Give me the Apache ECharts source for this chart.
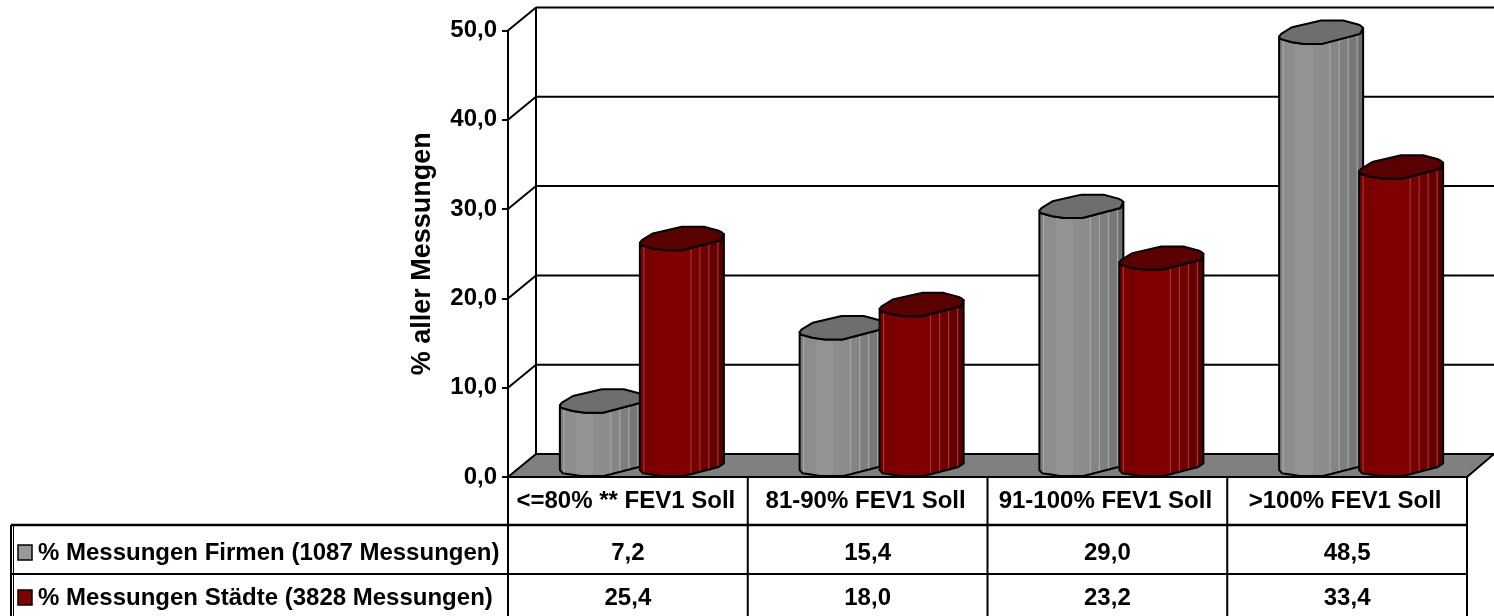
<!DOCTYPE html>
<html><head><meta charset="utf-8">
<style>html,body{margin:0;padding:0;background:#fff}#c{width:1494px;height:616px}</style>
<script src="https://cdn.jsdelivr.net/npm/echarts@6/dist/echarts.min.js"></script>
</head><body><div id="c"></div>
<script>
const categories = ['<=80% ** FEV1 Soll','81-90% FEV1 Soll','91-100% FEV1 Soll','>100% FEV1 Soll'];
const firmenName = '% Messungen Firmen (1087 Messungen)';
const staedteName = '% Messungen Städte (3828 Messungen)';
const firmen = [7.2,15.4,29.0,48.5];
const staedte = [25.4,18.0,23.2,33.4];
const yTicks = [0,10,20,30,40,50];
const FONT = '"Liberation Sans", Arial, sans-serif';
const DX = 28, DY = 23;
const fmt = v => v.toFixed(1).replace('.', ',');

function ramp(stops){
  const out=[];
  for(let i=0;i<stops.length;i++){
    const a=stops[i][0], b=i+1<stops.length?stops[i+1][0]:1;
    out.push({offset:a,color:stops[i][1]},{offset:b,color:stops[i][1]});
  }
  return new echarts.graphic.LinearGradient(0,0,1,0,out);
}
const greyBody=[[0,'#7d7d7d'],[.05,'#8d8d8d'],[.2,'#939393'],[.4,'#8c8c8c'],[.6,'#858585'],[.72,'#7f7f7f'],[.83,'#777'],[.94,'#6c6c6c']];
const redBody=[[0,'#7a0000'],[.2,'#800000'],[.6,'#780000'],[.72,'#700000'],[.83,'#660000'],[.94,'#520000']];

// outline of the faceted cylinder cap and foot, relative to their centre
const capFront=[[-42,4.3],[-41,6.7],[-29,10],[-17,11.7],[1,11.7],[39,1.7],[42,-4.3]];
const capBack=[[39.5,-6.5],[37,-7.7],[22,-11.7],[0,-11.7],[-29,-5],[-40,1.7]];
const footFront=[[-42,5.2],[-39,8.5],[-21,11.2],[2,11.2],[36,2.5],[42,-1.5]];
function edgeY(edge,x){
  for(let i=0;i+1<edge.length;i++){
    const a=edge[i],b=edge[i+1];
    if(x>=a[0]&&x<=b[0]) return a[1]+(b[1]-a[1])*(x-a[0])/(b[0]-a[0]);
  }
  return 0;
}
function cylinder(offset, bodyStops, topColor, lineColor){
  return function(params, api){
    const H=11.7;
    const idx=api.value(0), val=api.value(1);
    const base=api.coord([idx,0]), top=api.coord([idx,val]);
    const cx=base[0]+offset*api.size([1,0])[0];
    const yb=base[1]-H-0.5, yt=top[1]-H;
    const at=(cy,p)=>[cx+p[0],cy+p[1]];
    const body=capFront.map(p=>at(yt,p)).concat(footFront.slice().reverse().map(p=>at(yb,p)));
    const ring=capFront.concat(capBack).map(p=>at(yt,p));
    const children=[{type:'polygon',shape:{points:body},style:{fill:ramp(bodyStops),stroke:'#000',lineWidth:2,lineJoin:'round'}}];
    [-38,9,18,27,36].forEach(o=>{
      children.push({type:'line',shape:{x1:cx+o,y1:yt+edgeY(capFront,o)+1,x2:cx+o,y2:yb+edgeY(footFront,o)-1},style:{stroke:lineColor,lineWidth:1}});
    });
    children.push({type:'polygon',shape:{points:ring},style:{fill:topColor,stroke:'#000',lineWidth:2,lineJoin:'round'}});
    return {type:'group',children};
  };
}

const chart=echarts.init(document.getElementById('c'),null,{renderer:'canvas'});

function tableGraphics(){
  const L=508,R=1467,T=477,R1=525,R2=574,B=616,LL=11;
  const line=(x1,y1,x2,y2,w)=>({type:'line',shape:{x1,y1,x2,y2},style:{stroke:'#000',lineWidth:w||2},z:20});
  const txt=(x,y,text,align)=>({type:'text',x,y,z:21,style:{text,fill:'#000',font:'bold 24px '+FONT,align:align||'center',verticalAlign:'middle'}});
  const g=[];
  g.push(line(L,T,L,B),line(R,T,R,B));
  const w=(R-L)/categories.length;
  for(let i=1;i<categories.length;i++) g.push(line(L+i*w,T,L+i*w,B));
  g.push(line(LL,R1,R,R1,2.5),line(LL,R2,R,R2,2),line(LL,R1,LL,B,2),line(LL+2.5,R1,LL+2.5,B,1));
  const rows=[[firmen,firmenName,'#999999',553],[staedte,staedteName,'#800000',598]];
  rows.forEach(([vals,name,col,y])=>{
    vals.forEach((v,i)=>g.push(txt(L+(i+.5)*w,y,fmt(v))));
    g.push({type:'rect',shape:{x:18,y:y-8,width:14,height:15},style:{fill:col,stroke:'#000',lineWidth:1.5},z:21});
    g.push(txt(38,y,name,'left'));
  });
  return g;
}

const wallData=yTicks.map(v=>[0,v]);
chart.setOption({
  animation:false,
  backgroundColor:'#fff',
  grid:{left:508,right:27,top:30.5,bottom:139,containLabel:false},
  xAxis:{type:'category',data:categories,boundaryGap:true,
    axisLine:{show:true,lineStyle:{color:'#000',width:2}},axisTick:{show:false},
    axisLabel:{interval:0,margin:12,color:'#000',fontFamily:FONT,fontWeight:'bold',fontSize:24,padding:[0,4,0,0]}},
  yAxis:{type:'value',min:0,max:50,interval:10,name:'% aller Messungen',nameLocation:'middle',nameGap:72,
    nameTextStyle:{color:'#000',fontFamily:FONT,fontWeight:'bold',fontSize:27},
    axisLine:{show:true,lineStyle:{color:'#000',width:2}},axisTick:{show:true,length:6,lineStyle:{color:'#000',width:2}},
    splitLine:{show:false},
    axisLabel:{margin:11,color:'#000',fontFamily:FONT,fontWeight:'bold',fontSize:24,formatter:v=>fmt(v)}},
  graphic:tableGraphics(),
  series:[
    {type:'custom',name:'wall',silent:true,z:1,data:wallData,clip:false,encode:{x:0,y:1},
     renderItem(p,api){
       const v=api.value(1), g=api.coord([0,0]), c=api.coord([0,v]);
       const x0=g[0]-api.size([1,0])[0]/2, rx=x0+api.size([1,0])[0]*categories.length;
       const s={stroke:'#000',lineWidth:2};
       const kids=[];
       if(v===0){
         kids.push({type:'polygon',shape:{points:[[x0,c[1]],[rx,c[1]],[rx+DX-1,c[1]-DY],[x0+DX,c[1]-DY]]},style:{fill:'#808080',stroke:'#000',lineWidth:2}});
         const t=api.coord([0,50]);
         kids.push({type:'line',shape:{x1:x0+DX,y1:c[1]-DY,x2:x0+DX,y2:t[1]-DY},style:s});
       } else {
         kids.push({type:'line',shape:{x1:x0,y1:c[1],x2:x0+DX,y2:c[1]-DY},style:s});
         kids.push({type:'line',shape:{x1:x0+DX,y1:c[1]-DY,x2:rx+DX-1,y2:c[1]-DY},style:s});
       }
       return {type:'group',children:kids};
     }},
    {type:'custom',name:firmenName,z:3,data:firmen.map((v,i)=>[i,v]),clip:false,encode:{x:0,y:1},
     renderItem:cylinder(-68/239.75+42/239.75,greyBody,'#6e6e6e','#aaaaaa')},
    {type:'custom',name:staedteName,z:4,data:staedte.map((v,i)=>[i,v]),clip:false,encode:{x:0,y:1},
     renderItem:cylinder(12/239.75+42/239.75,redBody,'#5a0000','#a04040')}
  ]
});
</script></body></html>
